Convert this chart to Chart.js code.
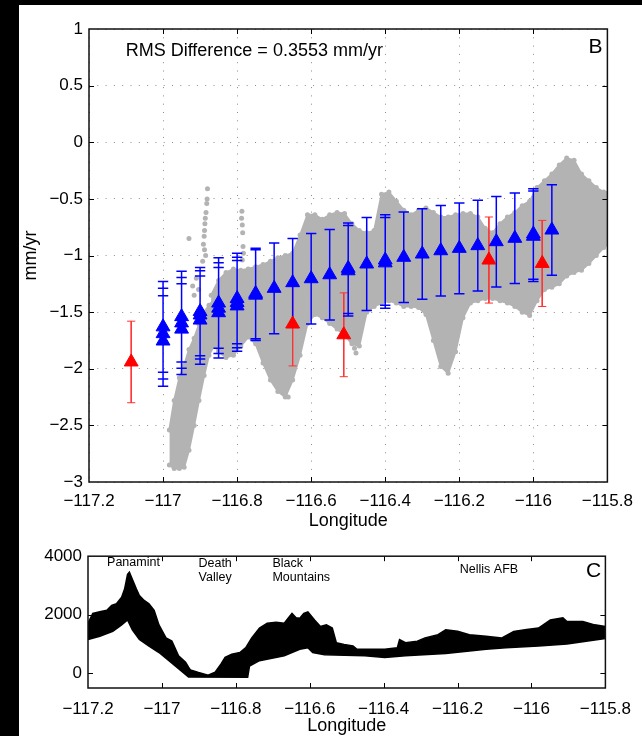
<!DOCTYPE html>
<html>
<head>
<meta charset="utf-8">
<title>GPS velocity vs longitude</title>
<script src="https://cdn.jsdelivr.net/npm/chart.js@4.4.0/dist/chart.umd.min.js"></script>
<style>
  html, body { margin: 0; padding: 0; background: #fff; }
  #wrap { position: relative; width: 642px; height: 736px; overflow: hidden; }
  .edge { position: absolute; background: #000; }
  canvas { position: absolute; left: 0; }
</style>
</head>
<body>
<div id="wrap">
  <div class="edge" style="left:0;top:0;width:642px;height:5px"></div>
  <div class="edge" style="left:0;top:0;width:19px;height:736px"></div>
  <canvas id="chartB" width="642" height="540" style="top:0"></canvas>
  <canvas id="chartC" width="642" height="196" style="top:540px"></canvas>
</div>
<script>
// ticks
const xTicks = [-117.2, -117, -116.8, -116.6, -116.4, -116.2, -116, -115.8];
const yTicksB = [-3, -2.5, -2, -1.5, -1, -0.5, 0, 0.5, 1];
const yTicksC = [0, 2000, 4000];

// blue triangles (mm/yr) with error bars
const blueLon = [-117, -117, -117, -116.95, -116.95, -116.95, -116.9, -116.9, -116.9,
  -116.85, -116.85, -116.85, -116.8, -116.8, -116.8, -116.75, -116.75, -116.7, -116.65,
  -116.6, -116.55, -116.5, -116.5, -116.45, -116.4, -116.4, -116.35, -116.3, -116.25,
  -116.2, -116.15, -116.1, -116.05, -116, -116, -115.95];
const blueVal = [-1.63, -1.69, -1.755, -1.54, -1.595, -1.65, -1.495, -1.525, -1.57,
  -1.42, -1.465, -1.505, -1.38, -1.415, -1.445, -1.335, -1.35, -1.29, -1.24,
  -1.205, -1.17, -1.113, -1.135, -1.075, -1.04, -1.065, -1.016, -0.987, -0.958,
  -0.937, -0.913, -0.878, -0.848, -0.81, -0.83, -0.775];
const blueErr = [0.4, 0.4, 0.4, 0.4, 0.4, 0.4, 0.39, 0.39, 0.39,
  0.4, 0.4, 0.4, 0.4, 0.4, 0.4, 0.4, 0.4, 0.4, 0.39,
  0.4, 0.4, 0.4, 0.4, 0.41, 0.4, 0.4, 0.4, 0.4, 0.4,
  0.4, 0.4, 0.4, 0.4, 0.4, 0.4, 0.4];

// red triangles
const redLon = [-117.086, -116.65, -116.512, -116.12, -115.976];
const redVal = [-1.94, -1.605, -1.70, -1.04, -1.07];
const redErr = [0.36, 0.37, 0.37, 0.38, 0.38];

// grey model cloud: main band
const bandLon = [-116.87, -116.85, -116.83, -116.81, -116.79, -116.77, -116.75, -116.73, -116.71,
  -116.69, -116.67, -116.65, -116.63, -116.61, -116.59, -116.57, -116.55, -116.53, -116.51,
  -116.49, -116.47, -116.45, -116.43, -116.41, -116.39, -116.37, -116.35, -116.33, -116.31,
  -116.29, -116.27, -116.25, -116.23, -116.21, -116.19, -116.17, -116.15, -116.13, -116.11,
  -116.09, -116.07, -116.05, -116.03, -116.01, -115.99, -115.97, -115.95, -115.93, -115.91,
  -115.89, -115.87, -115.85, -115.83, -115.81, -115.8];
const bandTop = [-1.35, -1.22, -1.15, -1.12, -1.13, -1.12, -1.10, -1.08, -1.05,
  -1.02, -1.00, -0.98, -0.82, -0.64, -0.64, -0.68, -0.64, -0.62, -0.63,
  -0.72, -0.78, -0.80, -0.78, -0.46, -0.44, -0.52, -0.60, -0.64, -0.60,
  -0.58, -0.62, -0.66, -0.66, -0.64, -0.63, -0.63, -0.66, -0.76, -0.80,
  -0.72, -0.66, -0.62, -0.56, -0.52, -0.40, -0.34, -0.28, -0.20, -0.14,
  -0.16, -0.28, -0.34, -0.40, -0.44, -0.45];
const bandBot = [-1.75, -1.85, -1.90, -1.88, -1.80, -1.72, -1.78, -1.95, -2.10,
  -2.20, -2.25, -2.10, -1.88, -1.60, -1.52, -1.55, -1.60, -1.65, -1.70,
  -1.78, -1.80, -1.50, -1.45, -1.42, -1.40, -1.42, -1.45, -1.45, -1.46,
  -1.52, -1.75, -1.98, -2.04, -1.85, -1.55, -1.42, -1.40, -1.38, -1.38,
  -1.40, -1.42, -1.45, -1.50, -1.53, -1.40, -1.30, -1.28, -1.25, -1.18,
  -1.15, -1.13, -1.07, -1.00, -0.93, -0.90];

// grey cloud: steep western branch
const branchLon = [-116.983, -116.97, -116.956, -116.943, -116.93, -116.916, -116.903, -116.889, -116.876, -116.863, -116.849];
const branchTop = [-2.54, -2.28, -2.08, -1.97, -1.83, -1.73, -1.61, -1.50, -1.44, -1.39, -1.35];
const branchBot = [-2.85, -2.88, -2.88, -2.87, -2.72, -2.50, -2.28, -2.06, -1.88, -1.80, -1.80];

// scattered grey points outside the band
const sprayLon = [-116.880, -116.881, -116.882, -116.884, -116.886, -116.887, -116.888, -116.889, -116.891, -116.888, -116.885, -116.893,
  -116.787, -116.788, -116.786, -116.785, -116.784, -116.783, -116.786,
  -116.930, -116.920, -116.916, -116.904, -116.910, -116.670, -116.662, -116.483, -116.479];
const sprayVal = [-0.41, -0.50, -0.54, -0.62, -0.67, -0.72, -0.78, -0.83, -0.90, -0.95, -1.00, -1.05,
  -0.61, -0.67, -0.73, -0.80, -0.92, -0.98, -1.04,
  -0.85, -1.27, -1.35, -1.30, -1.20, -2.22, -2.25, -1.82, -1.86];

// topography (m), upper and lower envelopes
const elevTopLon = [-117.2, -117.187, -117.168, -117.149, -117.136, -117.123, -117.109, -117.101, -117.093, -117.088,
  -117.08, -117.069, -117.061, -117.048, -117.035, -117.021, -117.008, -116.989, -116.973, -116.955,
  -116.936, -116.928, -116.923, -116.901, -116.875, -116.856, -116.84, -116.829, -116.811, -116.789,
  -116.773, -116.757, -116.736, -116.715, -116.691, -116.669, -116.659, -116.648, -116.637, -116.627,
  -116.616, -116.605, -116.587, -116.571, -116.555, -116.539, -116.528, -116.507, -116.483, -116.472,
  -116.451, -116.397, -116.363, -116.357, -116.341, -116.309, -116.288, -116.253, -116.232, -116.2,
  -116.168, -116.123, -116.08, -116.048, -116.013, -115.981, -115.949, -115.915, -115.904, -115.861,
  -115.829, -115.8];
const elevTop = [1710, 2044, 2100, 2155, 2322, 2378, 2600, 2878, 3378, 3455,
  3211, 2878, 2655, 2489, 2378, 2155, 1655, 1211, 1100, 600,
  378, 211, 120, 30, -60, 40, 322, 545, 650, 711,
  878, 1211, 1545, 1711, 1745, 1711, 1878, 2045, 1900, 1878,
  2045, 2100, 1822, 1600, 1656, 1545, 1045, 989, 933, 822,
  822, 822, 878, 1156, 1045, 1100, 1211, 1322, 1489, 1434,
  1322, 1267, 1211, 1434, 1500, 1545, 1822, 1900, 1767, 1767,
  1656, 1600];
const elevBotLon = [-117.2, -117.168, -117.133, -117.109, -117.093, -117.08, -117.061, -117.035, -117.008, -116.981,
  -116.955, -116.928, -116.768, -116.763, -116.736, -116.669, -116.627, -116.605, -116.592, -116.56,
  -116.451, -116.397, -116.341, -116.232, -116.123, -116.069, -115.981, -115.904, -115.8];
const elevBot = [1156, 1267, 1433, 1655, 1822, 1489, 1156, 933, 711, 433,
  156, -122, -130, 250, 434, 600, 822, 878, 711, 633,
  600, 545, 600, 678, 822, 878, 933, 1000, 1190];

const FONT = "'Liberation Sans', Arial, Helvetica, sans-serif";
const GRAY = '#b3b3b3';
Chart.defaults.font.family = FONT;
Chart.defaults.font.size = 17;
Chart.defaults.color = '#000';

function pts(xs, ys) {
  return xs.map((x, i) => ({ x: x, y: ys[i] }));
}

// vertical bar + two caps per point, separated by gaps
function errorBars(xs, ys, es, cap) {
  const out = [];
  xs.forEach((x, i) => {
    const hi = ys[i] + es[i], lo = ys[i] - es[i];
    out.push({ x: x, y: hi }, { x: x, y: lo }, { x: x, y: null });
    out.push({ x: x - cap, y: hi }, { x: x + cap, y: hi }, { x: x, y: null });
    out.push({ x: x - cap, y: lo }, { x: x + cap, y: lo }, { x: x, y: null });
  });
  return out;
}

function minus(v) {
  return String(v).replace('-', '\u2212');
}

// box, inward tick marks and text notes
const frame = {
  id: 'frame',
  afterDatasetsDraw(chart, args, o) {
    const { ctx, chartArea: a, scales } = chart;
    const x = scales.x, y = scales.y;
    ctx.save();
    ctx.strokeStyle = '#000';
    ctx.lineWidth = 1;
    ctx.beginPath();
    x.ticks.forEach(t => {
      const px = Math.round(x.getPixelForValue(t.value)) + 0.5;
      if (px <= a.left + 1 || px >= a.right - 1) return;
      ctx.moveTo(px, a.bottom); ctx.lineTo(px, a.bottom - o.tick);
      ctx.moveTo(px, a.top); ctx.lineTo(px, a.top + o.tick);
    });
    y.ticks.forEach(t => {
      const py = Math.round(y.getPixelForValue(t.value)) + 0.5;
      if (py <= a.top + 1 || py >= a.bottom - 1) return;
      ctx.moveTo(a.left, py); ctx.lineTo(a.left + o.tick, py);
      ctx.moveTo(a.right, py); ctx.lineTo(a.right - o.tick, py);
    });
    ctx.stroke();
    ctx.lineWidth = 1.5;
    ctx.strokeStyle = '#111';
    ctx.strokeRect(a.left, a.top, a.right - a.left, a.bottom - a.top);
    ctx.fillStyle = '#000';
    ctx.textBaseline = 'middle';
    (o.notes || []).forEach(n => {
      ctx.font = n.size + 'px ' + FONT;
      ctx.textAlign = n.align;
      ctx.fillText(n.text, x.getPixelForValue(n.x), y.getPixelForValue(n.y));
    });
    ctx.restore();
  }
};

new Chart(document.getElementById('chartB'), {
  type: 'scatter',
  data: {
    datasets: [
      { data: pts(blueLon, blueVal), pointStyle: 'triangle', pointRadius: 8,
        backgroundColor: '#0000ff', borderColor: '#0000ff', borderWidth: 1, order: 0 },
      { data: pts(redLon, redVal), pointStyle: 'triangle', pointRadius: 8,
        backgroundColor: '#ff0000', borderColor: '#ff0000', borderWidth: 1, order: 1 },
      { type: 'line', data: errorBars(blueLon, blueVal, blueErr, 0.014), borderColor: '#0000ff',
        borderWidth: 1.5, pointRadius: 0, fill: false, spanGaps: false, order: 2 },
      { type: 'line', data: errorBars(redLon, redVal, redErr, 0.011), borderColor: '#ff3333',
        borderWidth: 1, pointRadius: 0, fill: false, spanGaps: false, order: 3 },
      { data: pts(sprayLon, sprayVal), pointRadius: 2.5, backgroundColor: GRAY, borderWidth: 0, order: 4 },
      { type: 'line', data: pts(bandLon, bandTop), fill: '+1', backgroundColor: GRAY, borderColor: GRAY,
        borderWidth: 2, pointRadius: 2.5, pointBackgroundColor: GRAY, pointBorderWidth: 0, order: 5 },
      { type: 'line', data: pts(bandLon, bandBot), fill: false, borderColor: GRAY,
        borderWidth: 2, pointRadius: 2.5, pointBackgroundColor: GRAY, pointBorderWidth: 0, order: 5 },
      { type: 'line', data: pts(branchLon, branchTop), fill: '+1', backgroundColor: GRAY, borderColor: GRAY,
        borderWidth: 2, pointRadius: 2.5, pointBackgroundColor: GRAY, pointBorderWidth: 0, order: 5 },
      { type: 'line', data: pts(branchLon, branchBot), fill: false, borderColor: GRAY,
        borderWidth: 2, pointRadius: 2.5, pointBackgroundColor: GRAY, pointBorderWidth: 0, order: 5 }
    ]
  },
  options: {
    responsive: false,
    animation: false,
    layout: { padding: { top: 29, right: 29, left: 0, bottom: 0 } },
    plugins: {
      legend: { display: false },
      tooltip: { enabled: false },
      frame: {
        tick: 5,
        notes: [
          { text: 'RMS Difference = 0.3553 mm/yr', x: -117.101, y: 0.806, align: 'left', size: 18 },
          { text: 'B', x: -115.832, y: 0.84, align: 'center', size: 21 }
        ]
      }
    },
    scales: {
      x: {
        type: 'linear', min: -117.2, max: -115.8,
        afterBuildTicks: s => { s.ticks = xTicks.map(v => ({ value: v })); },
        afterFit: s => { s.height = 58; },
        ticks: { callback: v => minus(v), padding: 9, maxRotation: 0, autoSkip: false },
        grid: { drawTicks: false, color: '#8c8c8c', lineWidth: 1 },
        border: { display: false, dash: [1, 7.3] },
        title: { display: true, text: 'Longitude', font: { size: 18, lineHeight: 1 }, padding: { top: 0, bottom: 10 } }
      },
      y: {
        type: 'linear', min: -3, max: 1,
        afterBuildTicks: s => { s.ticks = yTicksB.map(v => ({ value: v })); },
        afterFit: s => { s.width = 89; },
        ticks: { callback: v => minus(v), padding: 6, autoSkip: false },
        grid: { drawTicks: false, color: '#8c8c8c', lineWidth: 1 },
        border: { display: false, dash: [1, 7.3] },
        title: { display: true, text: 'mm/yr', font: { size: 18, lineHeight: 1 }, padding: { top: 22, bottom: 0 } }
      }
    }
  },
  plugins: [frame]
});

new Chart(document.getElementById('chartC'), {
  type: 'scatter',
  data: {
    datasets: [
      { type: 'line', data: pts(elevTopLon, elevTop), fill: '+1', backgroundColor: '#000', borderColor: '#000',
        borderWidth: 1.5, pointRadius: 0 },
      { type: 'line', data: pts(elevBotLon, elevBot), fill: false, borderColor: '#000',
        borderWidth: 1.5, pointRadius: 0 }
    ]
  },
  options: {
    responsive: false,
    animation: false,
    layout: { padding: { top: 13, right: 29, left: 0, bottom: 0 } },
    plugins: {
      legend: { display: false },
      tooltip: { enabled: false },
      frame: {
        tick: 5,
        notes: [
          { text: 'Panamint', x: -117.077, y: 3800, align: 'center', size: 12.5 },
          { text: 'Death', x: -116.856, y: 3733, align: 'center', size: 12.5 },
          { text: 'Valley', x: -116.856, y: 3267, align: 'center', size: 12.5 },
          { text: 'Black', x: -116.701, y: 3733, align: 'left', size: 12.5 },
          { text: 'Mountains', x: -116.701, y: 3267, align: 'left', size: 12.5 },
          { text: 'Nellis AFB', x: -116.115, y: 3533, align: 'center', size: 12.5 },
          { text: 'C', x: -115.832, y: 3500, align: 'center', size: 21 }
        ]
      }
    },
    scales: {
      x: {
        type: 'linear', min: -117.2, max: -115.8,
        afterBuildTicks: s => { s.ticks = xTicks.map(v => ({ value: v })); },
        afterFit: s => { s.height = 48; },
        ticks: { callback: v => minus(v), padding: 11, maxRotation: 0, autoSkip: false },
        grid: { display: false, drawTicks: false },
        border: { display: false },
        title: { display: true, text: 'Longitude', font: { size: 18, lineHeight: 1 }, padding: { top: 0, bottom: 1 } }
      },
      y: {
        type: 'linear', min: -500, max: 4000,
        afterBuildTicks: s => { s.ticks = yTicksC.map(v => ({ value: v })); },
        afterFit: s => { s.width = 88; },
        ticks: { callback: v => minus(v), padding: 6, autoSkip: false },
        grid: { display: false, drawTicks: false },
        border: { display: false }
      }
    }
  },
  plugins: [frame]
});
</script>
</body>
</html>
